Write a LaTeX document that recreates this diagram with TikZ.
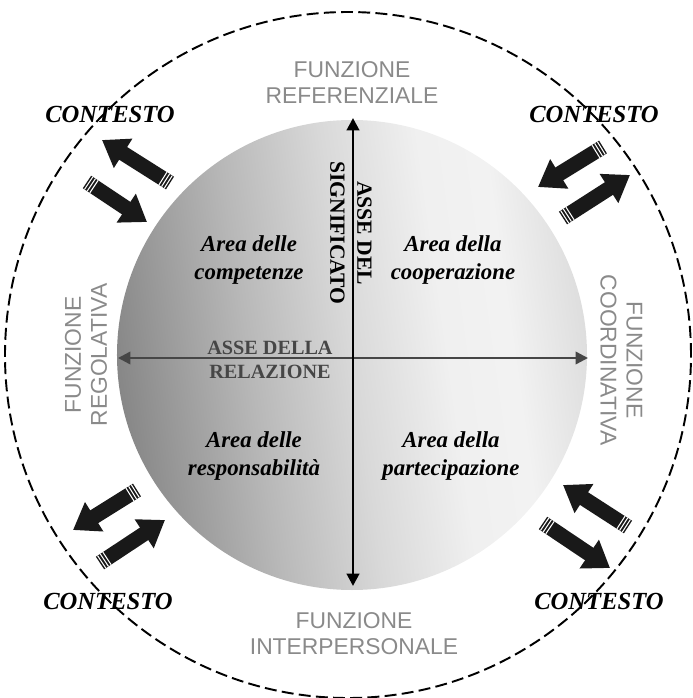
\documentclass[tikz,border=0pt]{standalone}
\usepackage{fontspec}
\setmainfont{Liberation Serif}
\setsansfont{Liberation Sans}
\usetikzlibrary{arrows.meta, calc}
\definecolor{funzgray}{RGB}{138, 138, 138}
\definecolor{relgray}{RGB}{70, 70, 70}
\pgfdeclarehorizontalshading{areashade}{100bp}{%
  color(0bp)=(black!47); color(25bp)=(black!47); color(31.6bp)=(black!38);
  color(39bp)=(black!28); color(50bp)=(black!15); color(60bp)=(black!6);
  color(67bp)=(black!5); color(75bp)=(black!13); color(100bp)=(black!13)}

\begin{document}
\begin{tikzpicture}[
    funz/.style={font=\sffamily\fontsize{13}{14.8}\selectfont, text=funzgray, align=center},
    area/.style={font=\bfseries\itshape\fontsize{13}{15.4}\selectfont, align=center},
    asse/.style={font=\bfseries\fontsize{12.3}{15.4}\selectfont, align=center},
    contesto/.style={font=\bfseries\itshape\fontsize{14}{16}\selectfont},
    ctxarrow/.style={draw=black!90, line width=0.3cm, -{Triangle[width=0.66cm, length=0.5cm]}},
    ctxstripes/.style={draw=white, line width=0.3cm, dash pattern=on 0.6pt off 1.2pt}
]
    \useasboundingbox (-7.04,-6.86) rectangle (6.82,7.10);

    % outer context
    \draw[line width=1.1pt, dash pattern=on 6.8pt off 3pt] (-0.08,0) circle (6.86);

    % inner area
    \shade[shading=areashade, shading angle=8] (0,0) circle (4.7);

    % axes
    \coordinate (sig-top) at (0.02,4.74);
    \coordinate (sig-bot) at (0.02,-4.62);
    \coordinate (rel-left) at (-4.68,-0.06);
    \coordinate (rel-right) at (4.72,-0.06);
    \draw[relgray, line width=1.4pt, {Triangle[width=7pt,length=7pt]}-{Triangle[width=7pt,length=7pt]}]
        (rel-left) -- (rel-right);
    \draw[line width=1.6pt, {Triangle[width=7pt,length=7pt]}-{Triangle[width=7pt,length=7pt]}]
        (sig-bot) -- (sig-top);

    \node[asse, rotate=-90] (significato) at (-0.02,2.44) {ASSE DEL\\SIGNIFICATO};
    \node[asse, text=relgray, font=\bfseries\fontsize{11.5}{13.9}\selectfont] (relazione) at (-1.64,-0.1) {ASSE DELLA\\RELAZIONE};

    % areas
    \node[area] (competenze) at (-2.06,1.9) {Area delle\\competenze};
    \node[area] (cooperazione) at (2.02,1.9) {Area della\\cooperazione};
    \node[area] (responsabilita) at (-1.96,-2.02) {Area delle\\responsabilità};
    \node[area] (partecipazione) at (1.98,-2.02) {Area della\\partecipazione};

    % functions
    \node[funz] (referenziale) at (0,5.45) {FUNZIONE\\REFERENZIALE};
    \node[funz] (interpersonale) at (0.04,-5.58) {FUNZIONE\\INTERPERSONALE};
    \node[funz, rotate=90] (regolativa) at (-5.32,0) {FUNZIONE\\REGOLATIVA};
    \node[funz, rotate=-90] (coordinativa) at (5.39,-0.1) {FUNZIONE\\COORDINATIVA};

    % context
    \node[contesto] (ctx-tl) at (-4.84,4.82) {CONTESTO};
    \node[contesto] (ctx-tr) at (4.84,4.82) {CONTESTO};
    \node[contesto] (ctx-bl) at (-4.88,-4.92) {CONTESTO};
    \node[contesto] (ctx-br) at (4.94,-4.92) {CONTESTO};

    \foreach \n/\tx/\ty/\hx/\hy in {tl1/-3.64/3.44/-5.0/4.3, tl2/-5.3/3.46/-4.1/2.66,
                                    tr1/5.02/4.16/3.72/3.36, tr2/4.22/2.74/5.56/3.6,
                                    bl1/-4.3/-2.7/-5.58/-3.5, bl2/-5.04/-4.16/-3.74/-3.3,
                                    br1/5.52/-3.44/4.22/-2.6, br2/3.82/-3.36/5.16/-4.26}{
        \coordinate (\n-tail) at (\tx,\ty);
        \coordinate (\n-tip) at (\hx,\hy);
        \draw[ctxarrow] (\n-tail) -- (\n-tip);
        \draw[ctxstripes] ($(\n-tail)!0.03cm!(\n-tip)$) -- ($(\n-tail)!0.18cm!(\n-tip)$);
    }
\end{tikzpicture}
\end{document}
